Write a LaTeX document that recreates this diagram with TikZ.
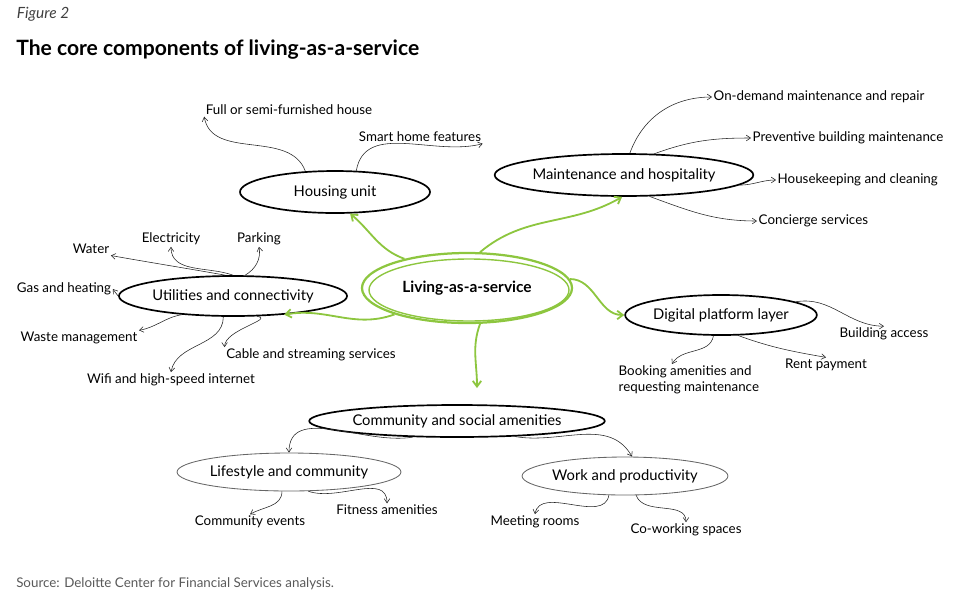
\documentclass[tikz,border=0pt]{standalone}
\usepackage{fontspec}
\setmainfont{Lato}
\usetikzlibrary{shapes.geometric,arrows.meta,positioning}
\definecolor{lgreen}{HTML}{8DC63F}
\begin{document}
\begin{tikzpicture}[x=0.025cm,y=-0.025cm,
    hub/.style={ellipse, draw=black, line width=1.2pt, inner sep=0pt, font=\fontsize{10.5}{12}\selectfont},
    leaf/.style={font=\fontsize{9.5}{11}\selectfont, inner sep=1pt, align=left},
    arr/.style={-{Straight Barb[length=3pt,width=4pt]}, line width=0.4pt, black!85},
    garr/.style={-{Straight Barb[length=4pt,width=6pt]}, line width=1.3pt, lgreen}]
    \useasboundingbox (0,0) rectangle (960,600);
    \node[anchor=west, font=\itshape\rmfamily\fontsize{11}{13}\selectfont, text=black!75] (fig) at (12,14) {Figure 2};
    \node[anchor=west, font=\bfseries\fontsize{15}{17}\selectfont, inner sep=0pt] (title) at (16,50) {The core components of living-as-a-service};
    \node[anchor=west, font=\fontsize{9.5}{11}\selectfont, text=black!65, inner sep=0pt] (src) at (16,584) {Source: Deloitte Center for Financial Services analysis.};

    % main hubs
    \node (laas) [hub, draw=lgreen, line width=1.6pt, minimum width=210*0.025cm, minimum height=70*0.025cm, font=\bfseries\fontsize{11}{12}\selectfont] at (467,288) {Living-as-a-service};
    \draw[lgreen, line width=1pt] (469,290) ellipse [x radius=100*0.025cm, y radius=31*0.025cm];
    \node (house) [hub, minimum width=190*0.025cm, minimum height=42*0.025cm] at (335,192) {Housing unit};
    \node (maint) [hub, minimum width=222*0.025cm, minimum height=42*0.025cm] at (624,175) {Maintenance and hospitality};
    \node (util) [hub, minimum width=170*0.025cm, minimum height=40*0.025cm] at (233,296) {Utilities and connectivity};
    \node (dig) [hub, minimum width=186*0.025cm, minimum height=40*0.025cm] at (721,315) {Digital platform layer};
    \node (comm) [hub, minimum width=220*0.025cm, minimum height=32*0.025cm] at (457,421) {Community and social amenities};
    \node (life) [hub, draw=black!60, line width=0.6pt, minimum width=206*0.025cm, minimum height=38*0.025cm] at (289,472) {Lifestyle and community};
    \node (work) [hub, draw=black!60, line width=0.6pt, minimum width=200*0.025cm, minimum height=38*0.025cm] at (625,476) {Work and productivity};

    % leaves
    \node (full) [leaf] at (289,110) {Full or semi-furnished house};
    \node (smart) [leaf] at (420,137) {Smart home features};
    \node (ondem) [leaf, anchor=west] at (712,97) {On-demand maintenance and repair};
    \node (prev) [leaf, anchor=west] at (751,138) {Preventive building maintenance};
    \node (hk) [leaf, anchor=west] at (776,180) {Housekeeping and cleaning};
    \node (conc) [leaf, anchor=west] at (757,221) {Concierge services};
    \node (water) [leaf] at (91,249) {Water};
    \node (elec) [leaf] at (171,239) {Electricity};
    \node (park) [leaf] at (259,239) {Parking};
    \node (gas) [leaf] at (64,289) {Gas and heating};
    \node (waste) [leaf] at (79,338) {Waste management};
    \node (wifi) [leaf] at (171,380) {Wifi and high-speed internet};
    \node (cable) [leaf] at (311,355) {Cable and streaming services};
    \node (bacc) [leaf] at (884,334) {Building access};
    \node (rent) [leaf] at (826,365) {Rent payment};
    \node (book) [leaf, anchor=north west] at (617,364) {Booking amenities and\\requesting maintenance};
    \node (cev) [leaf] at (250,522) {Community events};
    \node (fit) [leaf] at (387,510) {Fitness amenities};
    \node (meet) [leaf] at (535,522) {Meeting rooms};
    \node (cow) [leaf] at (686,530) {Co-working spaces};

    % green links
    \draw[garr] (laas.155) to[out=160,in=-40] (house.-55);
    \draw[garr] (laas.70) to[out=40,in=-150] (maint.-95);
    \draw[garr] (laas.5) to[out=0,in=180] (dig.west);
    \draw[garr] (laas.-70) to[out=-110,in=90] (477,388);
    \draw[garr] (laas.-160) to[out=-160,in=10] (util.-20);

    % black links
    \draw[arr] (house.145) to[out=110,in=-80] (full.south west);
    \draw[arr] (house.45) to[out=80,in=-165] (smart.south east);
    \draw[arr] (maint.75) to[out=70,in=180] (ondem.west);
    \draw[arr] (maint.35) to[out=20,in=180] (prev.west);
    \draw[arr] (maint.-5) to[out=0,in=180] (hk.west);
    \draw[arr] (maint.-40) to[out=-20,in=180] (conc.west);
    \draw[arr] (util.110) to[out=170,in=-10] (water.south east);
    \draw[arr] (util.90) to[out=160,in=-90] (elec.south);
    \draw[arr] (util.60) to[out=30,in=-80] (park.south);
    \draw[arr] (util.180) -- (gas.east);
    \draw[arr] (util.-160) to[out=-170,in=10] (waste.north east);
    \draw[arr] (util.-115) to[out=-90,in=80] (wifi.north);
    \draw[arr] (util.-40) to[out=-10,in=90] (cable.north west);
    \draw[arr] (dig.10) to[out=10,in=180] (bacc.north);
    \draw[arr] (dig.-50) to[out=-20,in=170] (rent.north);
    \draw[arr] (dig.-110) to[out=-100,in=60] ([xshift=55*0.025cm]book.north west);
    \draw[arr] (comm.-160) to[out=-170,in=90] (life.north);
    \draw[arr] (comm.-15) to[out=-10,in=120] (work.70);
    \draw[arr] (life.-110) to[out=-90,in=30] (cev.north);
    \draw[arr] (life.-45) to[out=-20,in=90] (fit.north);
    \draw[arr] (work.-130) to[out=-100,in=80] (meet.north);
    \draw[arr] (work.-60) to[out=-70,in=90] (cow.north);
\end{tikzpicture}
\end{document}
